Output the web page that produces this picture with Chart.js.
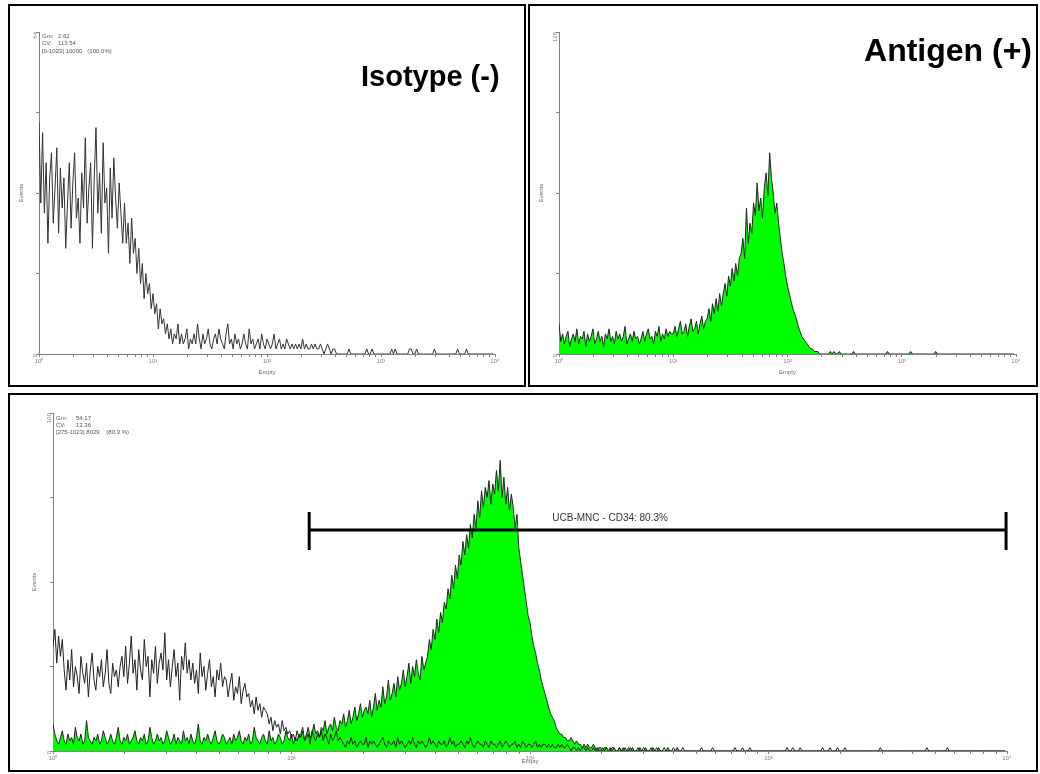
<!DOCTYPE html>
<html><head><meta charset="utf-8">
<script src="https://cdn.jsdelivr.net/npm/chart.js@4.4.1/dist/chart.umd.min.js"></script>
<style>
html,body{margin:0;padding:0;background:#fff;}
body{width:1040px;height:774px;position:relative;overflow:hidden;font-family:"Liberation Sans",Arial,sans-serif;}
.panel{position:absolute;border:2px solid #000;box-sizing:border-box;z-index:5;pointer-events:none;}
canvas{position:absolute;}
.big{position:absolute;font-weight:bold;color:#000;white-space:nowrap;line-height:1;z-index:6;}
</style></head><body>
<div class="panel" style="left:8px;top:4px;width:518px;height:383px"></div>
<div class="panel" style="left:528px;top:4px;width:510px;height:383px"></div>
<div class="panel" style="left:8px;top:393px;width:1030px;height:379px"></div>
<div class="big" style="left:361px;top:62px;font-size:29px">Isotype (-)</div>
<div class="big" style="right:8px;top:34px;font-size:32px">Antigen (+)</div>
<canvas id="c1" width="516" height="381" style="left:9px;top:5px;width:516px;height:381px"></canvas>
<canvas id="c2" width="508" height="381" style="left:529px;top:5px;width:508px;height:381px"></canvas>
<canvas id="c3" width="1028" height="377" style="left:9px;top:394px;width:1028px;height:377px"></canvas>
<script>
// ---- data: 1024-channel log histograms (counts listed every STEP channels) ----
const N_CH = 1024;
const decadeLabels = ['10\u2070','10\u00b9','10\u00b2','10\u00b3','10\u2074'];

// Top-left: isotype control (step 4)
const isoTopStep = 4;
const isoTopCounts = [46,30,44,28,38,22,35,40,26,33,41,24,37,29,35,21,
  30,38,25,34,40,27,31,22,36,29,43,26,33,38,21,35,
  45,28,36,24,42,30,33,20,37,27,39,31,25,34,28,22,
  30,22,26,18,27,20,23,16,
  21,14,18,11,16,12,14,9,
  12,8,10,5,9,6,7,4,
  6,3,5,2,4,3,6,2,
  4,2,3,5,1,3,2,4,2,6,3,1,4,2,3,5,2,1,3,4,2,5,3,2,1,4,6,2,3,1,4,2,
  3,1,2,4,2,1,5,2,3,1,2,3,1,4,2,1,3,2,1,2,4,1,2,3,1,2,1,3,2,1,2,1,
  2,1,2,1,3,1,2,1,1,2,1,2,1,1,2,1,0,1,2,1,0,1,1,0];
const isoTopTailEvents = [696,736,748,792,800,832,836,848,888,940,960];
const isoTopStats = ['Gm:', '2.62', 'CV:', '113.54', '[0-1023] 10000   (100.0%)'];

// Top-right: antigen stained (step 4)
const antTopStep = 4;
const antTopCounts = [12,5,8,4,7,9,3,6,8,5,10,4,7,6,9,3,8,5,7,10,4,6,9,5,7,3,8,6,10,5,7,4,9,6,8,5,7,11,4,6,8,5,9,6,7,4,
  6,9,5,8,10,6,7,4,9,7,11,5,8,6,10,7,9,8,
  8,11,7,10,13,8,9,12,7,11,14,9,10,13,8,12,15,10,13,
  14,18,13,20,16,22,17,24,19,
  24,28,23,31,27,34,29,36,31,38,
  40,46,38,58,44,
  52,48,60,55,68,57,62,54,
  66,72,63,80,70,
  64,56,60,52,
  46,40,36,31,27,24,
  21,18,16,14,11,
  9,7,6,5,4,3,
  2,2,1,1,1,0];
const antTopTailEvents = [608,616,628,660,736,788,844];

// Bottom: overlay of isotype and antigen (step 2)
const botStep = 2;
const isoBotCounts = [31,36,26,34,28,33,
  24,18,27,21,30,19,25,22,17,28,23,20,26,16,24,29,21,18,25,22,27,19,23,30,20,17,26,22,24,19,25,
  28,22,31,20,26,34,23,27,18,30,24,21,33,25,28,16,27,23,31,20,26,29,24,35,21,27,19,25,30,22,26,15,28,24,32,23,27,21,
  26,20,24,17,29,22,25,18,23,27,19,22,16,24,21,26,19,22,
  21,16,20,23,15,19,17,22,14,18,20,16,
  17,13,15,11,16,12,14,10,13,12,
  11,8,10,6,9,7,8,5,9,6,7,5,
  6,4,5,3,6,4,5,7,3,4,5,2,6,4,3,5,4,6,3,5,4,2,5,3,4,6,3,4,
  3,2,1,3,2,4,2,3,1,2, 3,2,2,4,1,3,2,3,2,1, 2,3,4,2,1,3,2,2,3,1, 4,2,3,2,1,2,3,2,4,2,
  1,3,2,3,2,1,2,4,2,3, 2,1,3,2,2,3,1,2,4,2, 3,1,2,2,3,2,1,3,2,4, 2,1,2,3,2,2,1,3,2,1,
  3,2,2,1,2,3,1,2,3,2, 1,2,2,3,1,2,1,3,2,1, 2,2,1,2,3,1,2,1,2,2, 1,2,1,2,1,1,2,1,2,1,1,2,
  1,0,1,1,0,1,0,1,1,0,1,0,0,1,0,1, 0,0,1,0,1,0,0,1,1,0,0,1,0,0,1,0,
  0,1,0,0,0,1,0,0,1,0,0,0,1,0,0,1, 0,0,0,1,0,0,0,0,1,0,0,0,0,1,0,0];
const isoBotTailEvents = [696,708,732,740,748,788,794,802,826,834,842,850,888,938,960];
const antBotCounts = [8,5,3,2,4,6,3,2,5,3,4,2,7,4,3,5,2,3,9,4,
  3,2,4,3,5,2,3,6,4,2,3,5,3,2,4,7,3,2,4,3,
  5,2,3,4,6,3,2,4,3,5,2,3,7,4,2,3,5,3,4,2,
  3,6,4,2,3,5,2,4,3,2,6,3,4,2,5,3,2,4,8,3,
  2,4,3,5,3,2,4,6,3,2,3,5,4,2,3,4,2,5,3,4,
  6,3,2,4,3,5,2,3,7,4,3,2,4,5,3,2,6,3,4,2,
  3,5,4,2,3,6,4,3,5,2,4,3,5,
  4,6,3,5,7,4,5,8,5,6,4,7,6,9,5,7,8,6,10,7,6,9,8,11,7,9,12,8,10,13,9,11,14,10,12,13,
  11,15,10,13,17,12,15,13,19,14,16,21,15,17,20,16,22,18,20,24,19,22,26,20,25,22,27,23,21,28,24,26,
  28,33,30,36,33,39,35,41,38,44,
  42,48,45,52,48,55,51,58,55,62,
  58,64,60,67,63,70,66,74,69,77,72,78,
  75,80,73,79,76,83,77,86,75,81,73,78,71,76,
  72,66,70,60,56,52,48,44,40,38,34,31,29,26,
  24,21,19,17,15,13,11,10,9,7,6,5,5,4,
  4,3,3,4,3,2,3,2,2,1,2,1,2,1,1,2,1,0,1,1,0,1,1,0,1,0,1,0,0,1,
  0,1,0,0,1,0,1,0,0,0,1,0,0,1,0,0,0,1,0,0,1,0,0,0,0,1,0,0,0,0,1,0];
const antBotTailEvents = [];
const botStats = ['Gm:', '54.17', 'CV:', '13.36', '[275-1023] 8029    (80.3 %)'];
const gateRange = [275, 1023];
const gateLabel = 'UCB-MNC - CD34: 80.3%';
const gateLabelChannel = 598;

// ---- build point lists ----
function buildSeries(counts, step, tail) {
  const pts = [];
  for (let ch = 0; ch < N_CH; ch += step) {
    const i = ch / step;
    const v = i < counts.length ? counts[i] : (tail.includes(ch) ? 1 : 0);
    pts.push({x: ch, y: v});
  }
  return pts;
}

const majorTicks = [0, 256, 512, 768, 1024];
const xTickVals = [];
for (let d = 0; d < 4; d++) {
  xTickVals.push(d * 256);
  for (let k = 2; k <= 9; k++) xTickVals.push(d * 256 + 256 * Math.log10(k));
}
xTickVals.push(1024);

const tickFont = {family: 'Liberation Sans', size: 6};
const gray = '#808080';

function xScale(h) {
  return {
    type: 'linear', min: 0, max: 1024,
    afterBuildTicks: s => { s.ticks = xTickVals.map(v => ({value: v})); },
    ticks: {autoSkip: false, maxRotation: 0, minRotation: 0, font: tickFont, color: gray, padding: 1,
      callback: v => { const j = majorTicks.indexOf(v); return j >= 0 ? decadeLabels[j] : ''; }},
    grid: {drawOnChartArea: false, drawTicks: true, tickLength: 3, color: gray},
    border: {color: gray, width: 1},
    title: {display: true, text: 'Empty', font: tickFont, color: '#666', padding: 0},
    afterFit: s => { s.height = h; }
  };
}
function yScale(max, w) {
  const ticks = [0, max / 4, max / 2, 3 * max / 4, max];
  return {
    type: 'linear', min: 0, max: max,
    afterBuildTicks: s => { s.ticks = ticks.map(v => ({value: v})); },
    ticks: {autoSkip: false, font: tickFont, color: gray, padding: 1, minRotation: 90, maxRotation: 90,
      callback: v => (v === 0 || v === max) ? String(v) : ''},
    grid: {drawOnChartArea: false, drawTicks: true, tickLength: 3, color: gray},
    border: {color: gray, width: 1},
    title: {display: true, text: 'Events', font: tickFont, color: '#666', padding: 0},
    afterFit: s => { s.width = w; }
  };
}

const statsPlugin = {
  id: 'stats',
  afterDraw(chart, args, opts) {
    if (!opts || !opts.lines) return;
    const {ctx, chartArea} = chart;
    const L = opts.lines;
    ctx.save();
    ctx.font = opts.size + 'px "Liberation Sans", Arial, sans-serif';
    ctx.fillStyle = '#555';
    ctx.textBaseline = 'top';
    const x0 = chartArea.left + opts.dx, y0 = chartArea.top + opts.dy;
    ctx.fillText(L[0], x0, y0); ctx.fillText(L[1], x0 + opts.col, y0);
    ctx.fillText(L[2], x0, y0 + opts.lh); ctx.fillText(L[3], x0 + opts.col, y0 + opts.lh);
    ctx.fillText(L[4], x0, y0 + 2 * opts.lh);
    ctx.restore();
  }
};
const gatePlugin = {
  id: 'gate',
  afterDatasetsDraw(chart, args, opts) {
    if (!opts || !opts.range) return;
    const {ctx, chartArea, scales} = chart;
    const x1 = scales.x.getPixelForValue(opts.range[0]);
    const x2 = scales.x.getPixelForValue(opts.range[1]);
    const y = chartArea.top + opts.dy;
    ctx.save();
    ctx.strokeStyle = '#000'; ctx.lineWidth = 3;
    ctx.beginPath();
    ctx.moveTo(x1, y); ctx.lineTo(x2, y);
    ctx.moveTo(x1, y - 18); ctx.lineTo(x1, y + 20);
    ctx.moveTo(x2, y - 18); ctx.lineTo(x2, y + 20);
    ctx.stroke();
    ctx.font = '10px "Liberation Sans", Arial, sans-serif';
    ctx.fillStyle = '#333'; ctx.textAlign = 'center'; ctx.textBaseline = 'bottom';
    ctx.fillText(opts.label, scales.x.getPixelForValue(opts.labelAt), y - 7);
    ctx.restore();
  }
};
Chart.register(statsPlugin, gatePlugin);

function baseOptions(pad, xh, yw, ymax) {
  return {
    responsive: false, animation: false, maintainAspectRatio: false,
    layout: {padding: pad},
    plugins: {legend: {display: false}, tooltip: {enabled: false}},
    elements: {point: {radius: 0}, line: {tension: 0}},
    scales: {x: xScale(xh), y: yScale(ymax, yw)}
  };
}

// Panel 1
const o1 = baseOptions({left: 9, top: 27, right: 30, bottom: 10}, 22, 21, 64);
o1.plugins.stats = {lines: isoTopStats, dx: 3, dy: 1, col: 16, lh: 7.5, size: 6};
new Chart(document.getElementById('c1'), {
  type: 'line',
  data: {datasets: [{data: buildSeries(isoTopCounts, isoTopStep, isoTopTailEvents), borderColor: '#333', borderWidth: 1, fill: false}]},
  options: o1
});

// Panel 2
const o2 = baseOptions({left: 9, top: 27, right: 21, bottom: 10}, 22, 21, 128);
new Chart(document.getElementById('c2'), {
  type: 'line',
  data: {datasets: [{data: buildSeries(antTopCounts, antTopStep, antTopTailEvents), borderColor: '#222', borderWidth: 1,
    fill: 'origin', backgroundColor: '#00ff00'}]},
  options: o2
});

// Panel 3
const o3 = baseOptions({left: 22, top: 19, right: 30, bottom: 6}, 14, 22, 100);
o3.plugins.stats = {lines: botStats, dx: 3, dy: 2, col: 20, lh: 7, size: 6};
o3.plugins.gate = {range: gateRange, dy: 117, label: gateLabel, labelAt: gateLabelChannel};
new Chart(document.getElementById('c3'), {
  type: 'line',
  data: {datasets: [
    {data: buildSeries(isoBotCounts, botStep, isoBotTailEvents), borderColor: '#222', borderWidth: 1, fill: false},
    {data: buildSeries(antBotCounts, botStep, antBotTailEvents), borderColor: '#222', borderWidth: 1, fill: 'origin', backgroundColor: '#00ff00'}
  ]},
  options: o3
});
</script>
</body></html>
